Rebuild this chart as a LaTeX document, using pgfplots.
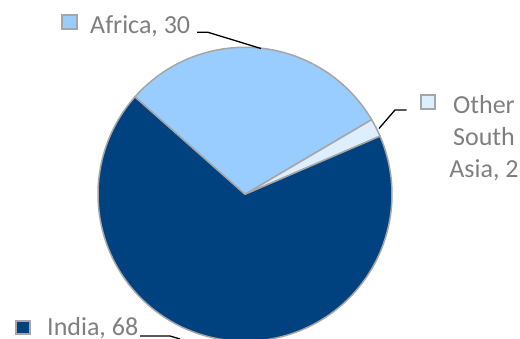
\documentclass[border=0pt]{standalone}
\usepackage{pgfplots}
\pgfplotsset{compat=1.18}
\usepackage{pgfplotstable}
\usepackage{fontspec}
\setmainfont{Carlito}
\definecolor{india}{HTML}{00427F}
\definecolor{africa}{HTML}{99CCFF}
\definecolor{other}{HTML}{DDEEFF}
\definecolor{edge}{HTML}{A6A6A6}
\definecolor{txt}{HTML}{7F7F7F}

\pgfplotstableread{
label value
Africa 30
Other 2
India 68
}\piedata

\begin{document}
\begin{tikzpicture}
\pgfplotstablegetelem{0}{value}\of\piedata \let\va=\pgfplotsretval
\pgfplotstablegetelem{1}{value}\of\piedata \let\vb=\pgfplotsretval
\pgfplotstablegetelem{2}{value}\of\piedata \let\vc=\pgfplotsretval
\pgfmathsetmacro\aA{138.5}
\pgfmathsetmacro\aB{\aA-3.6*\va}
\pgfmathsetmacro\aC{\aB-3.6*\vb}
\pgfmathsetmacro\aD{\aC-3.6*\vc}
\begin{axis}[at={(0,0)}, anchor=south west, scale only axis,
  width=520bp, height=339bp, xmin=0, xmax=520, ymin=0, ymax=339,
  y dir=reverse, hide axis, clip=true]
\addplot[fill=africa, draw=edge, line width=1.5bp, line join=round, domain=\aB:\aA, samples=90, variable=\t]
  ({245+147*cos(\t)},{194.3-147*sin(\t)}) -- (axis cs:245,194.3) -- cycle;
\addplot[fill=other, draw=edge, line width=1.5bp, line join=round, domain=\aC:\aB, samples=10, variable=\t]
  ({245+147*cos(\t)},{194.3-147*sin(\t)}) -- (axis cs:245,194.3) -- cycle;
\addplot[fill=india, draw=edge, line width=1.5bp, line join=round, domain=\aD:\aC, samples=180, variable=\t]
  ({245+147*cos(\t)},{194.3-147*sin(\t)}) -- (axis cs:245,194.3) -- cycle;
% leader lines
\draw[black, line width=1.3bp] (axis cs:197,32.3) -- (axis cs:208,32.3) -- (axis cs:261,48.5);
\draw[black, line width=1.3bp] (axis cs:406.7,110) -- (axis cs:395,110) -- (axis cs:379,128.5);
\draw[black, line width=1.3bp] (axis cs:140,336) -- (axis cs:170,336) -- (axis cs:180,339);
% label keys
\draw[edge, line width=2bp, fill=africa] (axis cs:61.7,15) rectangle (axis cs:76.7,29);
\draw[edge, line width=2bp, fill=other] (axis cs:420.5,95) rectangle (axis cs:435,108.5);
\draw[edge, line width=2bp, fill=india] (axis cs:16,320.5) rectangle (axis cs:30,333.5);
% labels
\begin{scope}[every node/.style={text=txt, inner sep=0pt, font=\fontsize{26bp}{32bp}\selectfont}]
\node[anchor=base west] at (axis cs:90,33) {Africa, 30};
\node[anchor=base] at (axis cs:484,113) {Other};
\node[anchor=base] at (axis cs:484,145) {South};
\node[anchor=base] at (axis cs:484,177) {Asia, 2};
\node[anchor=base west] at (axis cs:47,335) {India, 68};
\end{scope}
\end{axis}
\pgfresetboundingbox
\useasboundingbox (0,0) rectangle (520bp,339bp);
\end{tikzpicture}
\end{document}
